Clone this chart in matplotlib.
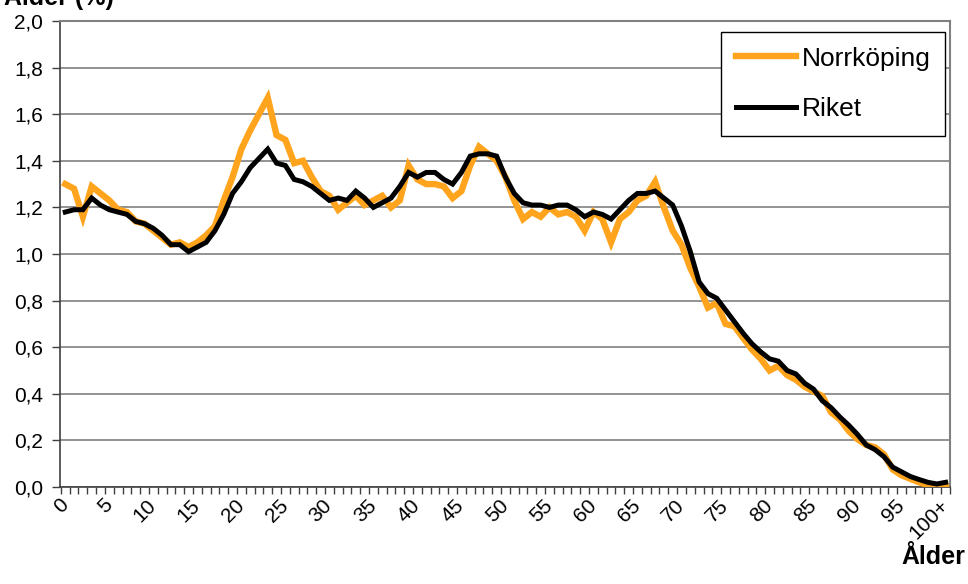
import numpy as np
import matplotlib
matplotlib.use("Agg")
import matplotlib.pyplot as plt
from matplotlib.ticker import MultipleLocator, FixedLocator, FuncFormatter

plt.rcParams['font.family'] = ['Liberation Sans', 'DejaVu Sans']

ages = list(range(0, 101))
tick_labels = [str(a) if a < 100 else "100+" for a in range(0, 101, 5)]

norrkoping = [1.30, 1.28, 1.16, 1.29, 1.26, 1.23, 1.19, 1.18, 1.14, 1.13,
              1.10, 1.07, 1.04, 1.05, 1.03, 1.05, 1.08, 1.12, 1.23, 1.33,
              1.45, 1.53, 1.60, 1.67, 1.51, 1.49, 1.39, 1.40, 1.33, 1.27,
              1.25, 1.19, 1.22, 1.25, 1.21, 1.23, 1.25, 1.20, 1.23, 1.38,
              1.32, 1.30, 1.30, 1.29, 1.24, 1.27, 1.38, 1.46, 1.43, 1.40,
              1.33, 1.23, 1.15, 1.18, 1.16, 1.20, 1.17, 1.18, 1.16, 1.10,
              1.18, 1.15, 1.05, 1.15, 1.18, 1.23, 1.25, 1.31, 1.20, 1.10,
              1.04, 0.94, 0.86, 0.77, 0.79, 0.70, 0.69, 0.64, 0.59, 0.55,
              0.50, 0.52, 0.48, 0.46, 0.43, 0.41, 0.39, 0.32, 0.29, 0.24,
              0.205, 0.18, 0.17, 0.14, 0.075, 0.05, 0.035, 0.02, 0.008, 0.0,
              0.01]

riket = [1.18, 1.19, 1.19, 1.24, 1.21, 1.19, 1.18, 1.17, 1.14, 1.13,
         1.11, 1.08, 1.04, 1.04, 1.01, 1.03, 1.05, 1.10, 1.17, 1.26,
         1.31, 1.37, 1.41, 1.45, 1.39, 1.38, 1.32, 1.31, 1.29, 1.26,
         1.23, 1.24, 1.23, 1.27, 1.24, 1.20, 1.22, 1.24, 1.29, 1.35,
         1.33, 1.35, 1.35, 1.32, 1.30, 1.35, 1.42, 1.43, 1.43, 1.42,
         1.33, 1.26, 1.22, 1.21, 1.21, 1.20, 1.21, 1.21, 1.19, 1.16,
         1.18, 1.17, 1.15, 1.19, 1.23, 1.26, 1.26, 1.27, 1.24, 1.21,
         1.12, 1.01, 0.88, 0.83, 0.81, 0.76, 0.71, 0.66, 0.615, 0.58,
         0.55, 0.54, 0.50, 0.485, 0.445, 0.42, 0.37, 0.34, 0.30, 0.265,
         0.225, 0.18, 0.16, 0.13, 0.085, 0.065, 0.045, 0.032, 0.02, 0.013,
         0.02]

fig = plt.figure(figsize=(9.68, 5.84), dpi=100)
ax = fig.add_axes([60 / 968, 1 - 487 / 584, 890 / 968, 466 / 584])

ax.plot(ages, norrkoping, color='#FFA41C', lw=4.6, label='Norrköping',
        solid_joinstyle='miter', zorder=3)
ax.plot(ages, riket, color='black', lw=3.6, label='Riket',
        solid_joinstyle='miter', zorder=4)

ax.set_xlim(-0.6, 100.5)
ax.set_ylim(0, 2.0)

ax.yaxis.set_major_locator(MultipleLocator(0.2))
ax.yaxis.set_major_formatter(FuncFormatter(lambda v, p: f"{v:.1f}".replace('.', ',')))
ax.grid(axis='y', color='#808080', lw=1.2, zorder=1)
ax.tick_params(axis='y', labelsize=15, length=6, width=1, color='#404040', pad=6)

ax.xaxis.set_major_locator(FixedLocator(list(range(0, 101, 5))))
ax.set_xticklabels(tick_labels, rotation=45, ha='right', va='center',
                   rotation_mode='anchor', fontsize=15)
ax.xaxis.set_minor_locator(FixedLocator([a - 0.5 for a in range(0, 102)]))
ax.tick_params(axis='x', which='major', length=0, pad=11)
ax.tick_params(axis='x', which='minor', length=5, width=1, color='#404040')

for s in ['left', 'bottom']:
    ax.spines[s].set_color('#404040')
    ax.spines[s].set_linewidth(1.2)
for s in ['top', 'right']:
    ax.spines[s].set_color('#808080')
    ax.spines[s].set_linewidth(1.5)

leg = ax.legend(loc='upper right', bbox_to_anchor=(0.9944, 0.976), fontsize=19,
                frameon=True, fancybox=False, edgecolor='black', framealpha=1,
                handlelength=2.3, handletextpad=0.2, labelspacing=1.0,
                borderpad=0.55, borderaxespad=0)
leg.get_frame().set_linewidth(1.0)

fig.text(4 / 968, 1 - 5 / 584, "Ålder (%)", fontsize=18, fontweight='bold',
         ha='left', va='baseline')
fig.text(965 / 968, 1 - 564 / 584, "Ålder", fontsize=18, fontweight='bold',
         ha='right', va='baseline')

fig.savefig('out.png', dpi=100)
